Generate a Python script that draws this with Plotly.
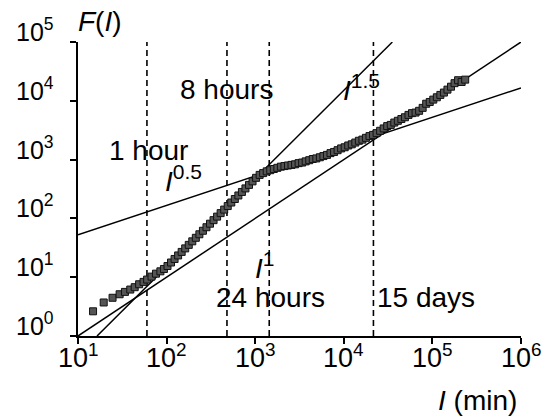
import plotly.graph_objects as go

# ---- data (log10 values) ----
lg_I = [1.17, 1.29, 1.39, 1.47, 1.53, 1.59, 1.64, 1.69, 1.74, 1.78, 1.83, 1.88, 1.93, 1.97,
        2.01, 2.05, 2.09, 2.13, 2.17, 2.21, 2.25, 2.29, 2.33, 2.37, 2.41, 2.45, 2.49, 2.53,
        2.57, 2.61, 2.65, 2.69, 2.73, 2.77, 2.81, 2.85, 2.89, 2.93, 2.97, 3.01, 3.05, 3.09,
        3.13, 3.17, 3.21, 3.25, 3.29, 3.33, 3.37, 3.41, 3.45, 3.49, 3.53, 3.57, 3.61, 3.65,
        3.69, 3.73, 3.77, 3.81, 3.85, 3.89, 3.93, 3.97, 4.01, 4.05, 4.09, 4.13, 4.17, 4.21,
        4.25, 4.29, 4.33, 4.37, 4.41, 4.45, 4.49, 4.53, 4.57, 4.61, 4.65, 4.69, 4.73, 4.77,
        4.81, 4.85, 4.89, 4.93, 4.97, 5.01, 5.05, 5.09, 5.13, 5.17, 5.21, 5.25, 5.29, 5.33, 5.37]
lg_F = [0.42, 0.57, 0.65, 0.71, 0.75, 0.79, 0.83, 0.88, 0.92, 0.96, 1.01, 1.06, 1.10, 1.14,
        1.19, 1.25, 1.31, 1.37, 1.43, 1.49, 1.55, 1.61, 1.67, 1.73, 1.79, 1.85, 1.91, 1.97,
        2.03, 2.09, 2.15, 2.21, 2.27, 2.33, 2.39, 2.45, 2.51, 2.57, 2.63, 2.69, 2.74, 2.77,
        2.80, 2.82, 2.84, 2.86, 2.88, 2.89, 2.90, 2.91, 2.92, 2.94, 2.95, 2.97, 2.99, 3.01,
        3.02, 3.04, 3.06, 3.08, 3.11, 3.13, 3.16, 3.19, 3.21, 3.24, 3.26, 3.29, 3.32, 3.34,
        3.37, 3.40, 3.42, 3.45, 3.49, 3.53, 3.57, 3.59, 3.63, 3.66, 3.69, 3.72, 3.76, 3.79,
        3.80, 3.83, 3.88, 3.95, 3.98, 4.02, 4.06, 4.10, 4.14, 4.19, 4.24, 4.30, 4.35, 4.32, 4.36]
I_data = [10 ** v for v in lg_I]
F_data = [10 ** v for v in lg_F]

# power-law guide lines: exponent, log10 prefactor, x-range (log10)
guide_exp = [0.5, 1.0, 1.5]
guide_lgA = [1.22, -1.0, -1.8225]
guide_lgx = [(1.0, 6.0), (1.0, 6.0), (1.215, 4.548)]
guide_sup = ["0.5", "1", "1.5"]

# time markers (minutes)
marker_I = [60, 480, 1440, 21600]
marker_labels = ["1 hour", "8 hours", "24 hours", "15 days"]

x_ticks = [1, 2, 3, 4, 5, 6]
y_ticks = [0, 1, 2, 3, 4, 5]

W, H = 548, 418
L, R, T, B = 78, 521, 42, 336
FONT = "Liberation Sans, Arial, sans-serif"


def px(x):
    return (x - L) / (R - L)


def py(y):
    return (B - y) / (B - T)


fig = go.Figure()

# dashed verticals
for xi in marker_I:
    fig.add_trace(go.Scatter(x=[xi, xi], y=[1, 1e5], mode="lines",
                             line=dict(color="black", width=1.6, dash="6px,4px"),
                             showlegend=False, hoverinfo="skip"))

# guide lines
for k, a, (x0, x1) in zip(guide_exp, guide_lgA, guide_lgx):
    xs = [10 ** x0, 10 ** x1]
    ys = [10 ** (a + k * x0), 10 ** (a + k * x1)]
    fig.add_trace(go.Scatter(x=xs, y=ys, mode="lines",
                             line=dict(color="black", width=1.5),
                             showlegend=False, hoverinfo="skip"))

# data
fig.add_trace(go.Scatter(x=I_data, y=F_data, mode="markers",
                         marker=dict(symbol="square", size=7, color="#555555",
                                     line=dict(color="#111111", width=1)),
                         showlegend=False))

ann = []
# tick labels
for t in y_ticks:
    ann.append(dict(text=f"10<sup>{t}</sup>", xref="paper", yref="y", x=0, y=t,
                    xanchor="right", yanchor="bottom", xshift=-22, yshift=-6,
                    showarrow=False, font=dict(size=25, family=FONT, color="black")))
for t in x_ticks:
    ann.append(dict(text=f"10<sup>{t}</sup>", xref="x", yref="paper", x=t, y=0,
                    xanchor="center", yanchor="top", yshift=-1,
                    showarrow=False, font=dict(size=27, family=FONT, color="black")))

# axis titles
ann.append(dict(text="<i>F</i>(<i>I</i>)", xref="paper", yref="paper", x=px(76), y=py(21),
                xanchor="left", yanchor="middle", showarrow=False,
                font=dict(size=28, family=FONT, color="black")))
ann.append(dict(text="<i>I</i> (min)", xref="paper", yref="paper", x=px(436), y=py(400),
                xanchor="left", yanchor="middle", showarrow=False,
                font=dict(size=28, family=FONT, color="black")))

# time labels
time_pos = [(148, 150), (226, 90), (270, 297), (426, 297)]
for txt, (cx, cy) in zip(marker_labels, time_pos):
    ann.append(dict(text=txt, xref="paper", yref="paper", x=px(cx), y=py(cy),
                    xanchor="center", yanchor="middle", showarrow=False,
                    font=dict(size=28, family=FONT, color="black")))

# guide labels
guide_pos = [(163, 178), (253, 265), (341, 88)]
for s, (cx, cy) in zip(guide_sup, guide_pos):
    txt = f"<i>I</i><sup><span style='font-size:21px'>{s}</span></sup>"
    ann.append(dict(text=txt, xref="paper", yref="paper", x=px(cx), y=py(cy),
                    xanchor="left", yanchor="middle", showarrow=False,
                    font=dict(size=28, family=FONT, color="black")))

fig.update_layout(
    width=W, height=H,
    margin=dict(l=L, r=W - R, t=T, b=H - B, pad=0),
    paper_bgcolor="white", plot_bgcolor="white",
    annotations=ann,
    xaxis=dict(type="log", range=[1, 6], showgrid=False, zeroline=False,
               showline=True, linecolor="black", linewidth=2,
               ticks="outside", ticklen=6, tickwidth=2, tickcolor="black",
               tickvals=[10 ** t for t in x_ticks], showticklabels=False),
    yaxis=dict(type="log", range=[0, 5], showgrid=False, zeroline=False,
               showline=True, linecolor="black", linewidth=2,
               ticks="outside", ticklen=6, tickwidth=2, tickcolor="black",
               tickvals=[10 ** t for t in y_ticks], showticklabels=False),
)

fig.write_html("out.html")
